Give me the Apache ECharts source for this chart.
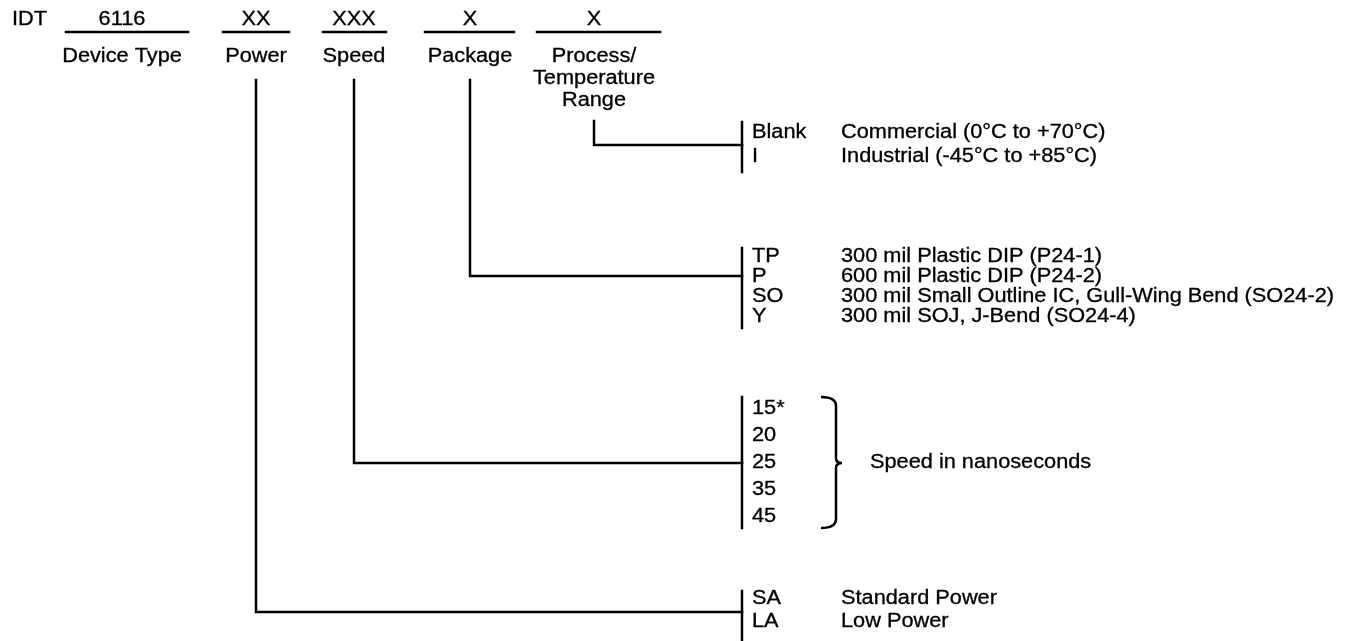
<!DOCTYPE html>
<html>
<head>
<meta charset="utf-8">
<script src="https://cdn.jsdelivr.net/npm/echarts@6/dist/echarts.min.js"></script>
<style>
html,body{margin:0;padding:0;background:#fff;}
#main{width:1348px;height:641px;}
</style>
</head>
<body>
<div id="main"></div>
<script>
// ---------- data (content of the ordering-information diagram) ----------
const prefix = 'IDT';
const fieldCodes = ['6116', 'XX', 'XXX', 'X', 'X'];
const fieldNames = ['Device Type', 'Power', 'Speed', 'Package', 'Process/\nTemperature\nRange'];

const tempCodes = ['Blank', 'I'];
const tempDescs = ['Commercial (0°C to +70°C)', 'Industrial (-45°C to +85°C)'];

const packageCodes = ['TP', 'P', 'SO', 'Y'];
const packageDescs = [
  '300 mil Plastic DIP (P24-1)',
  '600 mil Plastic DIP (P24-2)',
  '300 mil Small Outline IC, Gull-Wing Bend (SO24-2)',
  '300 mil SOJ, J-Bend (SO24-4)'
];

const speedCodes = ['15*', '20', '25', '35', '45'];
const speedNote = 'Speed in nanoseconds';

const powerCodes = ['SA', 'LA'];
const powerDescs = ['Standard Power', 'Low Power'];

// ---------- layout (diagram units on hidden axes, 1 unit = 1 px) ----------
const L = {
  prefixX: 12, codeY: 20, underlineY: 32, nameY: 57, nameLineH: 22,
  fieldX: [122, 256, 354, 470, 594],
  underline: [[66, 188], [223, 289], [323, 386], [425, 514], [537, 660]],
  stemTop: [null, 80, 80, 80, 121],
  barX: 742, codeX: 752, descX: 841,
  groups: [
    { field: 4, codes: tempCodes, descs: tempDescs, rowY: 133, step: 24, barTop: 122, barBot: 172, joinY: 145 },
    { field: 3, codes: packageCodes, descs: packageDescs, rowY: 257, step: 20, barTop: 248, barBot: 328, joinY: 276 },
    { field: 2, codes: speedCodes, descs: null, rowY: 409, step: 27, barTop: 397, barBot: 528, joinY: 463 },
    { field: 1, codes: powerCodes, descs: powerDescs, rowY: 599, step: 23, barTop: 591, barBot: 641, joinY: 612 }
  ],
  brace: { x1: 836, x2: 842, x0: 821 },
  noteX: 870
};

const FONT = '"Liberation Sans", Arial, Helvetica, sans-serif';
const FS = 19.5;
const TEXT_SX = 1.115;   // the source artwork is slightly wide-set
const LW = 2.5;

// ---------- build marks ----------
const segs = [];
const texts = [];   // [x, y, text, align]

texts.push([L.prefixX, L.codeY, prefix, 'left']);
fieldCodes.forEach((c, i) => {
  texts.push([L.fieldX[i], L.codeY, c, 'center']);
  segs.push({ coords: [[L.underline[i][0], L.underlineY], [L.underline[i][1], L.underlineY]] });
  fieldNames[i].split('\n').forEach((t, k) => {
    texts.push([L.fieldX[i], L.nameY + k * L.nameLineH, t, 'center']);
  });
});

L.groups.forEach(g => {
  const sx = L.fieldX[g.field];
  segs.push({ coords: [[sx, L.stemTop[g.field]], [sx, g.joinY], [L.barX, g.joinY]] });
  segs.push({ coords: [[L.barX, g.barTop], [L.barX, g.barBot]] });
  g.codes.forEach((c, k) => {
    const y = g.rowY + k * g.step;
    texts.push([L.codeX, y, c, 'left']);
    if (g.descs) texts.push([L.descX, y, g.descs[k], 'left']);
  });
});
const speedGroup = L.groups[2];
texts.push([L.noteX, speedGroup.joinY, speedNote, 'left']);
const braceData = [[L.brace.x0, speedGroup.barTop, speedGroup.joinY, speedGroup.barBot]];

const chart = echarts.init(document.getElementById('main'), null, { renderer: 'canvas' });
chart.setOption({
  animation: false,
  backgroundColor: '#fff',
  grid: { left: 0, right: 0, top: 0, bottom: 0 },
  xAxis: { type: 'value', min: 0, max: 1348, show: false },
  yAxis: { type: 'value', min: 0, max: 641, inverse: true, show: false },
  series: [
    {
      type: 'lines', coordinateSystem: 'cartesian2d', polyline: true, silent: true,
      lineStyle: { color: '#000', width: LW, opacity: 1, cap: 'square', join: 'miter' },
      data: segs
    },
    {
      type: 'custom', silent: true,
      renderItem: function (params, api) {
        const xa = api.value(0), yT = api.value(1), yM = api.value(2), yB = api.value(3);
        const P = (x, y) => api.coord([x, y]);
        const a = P(xa, yT), b = P(L.brace.x1, yT), c = P(L.brace.x1, yT + 9);
        const d = P(L.brace.x1, yM - 5), e = P(L.brace.x2, yM), f = P(L.brace.x1, yM + 5);
        const g = P(L.brace.x1, yB - 9), h = P(L.brace.x1, yB), k = P(xa, yB);
        const mm = P(L.brace.x1, yM);
        const path = `M${a[0]},${a[1]} Q${b[0]},${b[1]} ${c[0]},${c[1]} L${d[0]},${d[1]} Q${mm[0]},${mm[1]} ${e[0]},${e[1]} Q${mm[0]},${mm[1]} ${f[0]},${f[1]} L${g[0]},${g[1]} Q${h[0]},${h[1]} ${k[0]},${k[1]}`;
        return { type: 'path', shape: { pathData: path }, style: { fill: null, stroke: '#000', lineWidth: LW } };
      },
      data: braceData
    },
    {
      type: 'custom', silent: true,
      renderItem: function (params, api) {
        const pt = api.coord([api.value(0), api.value(1)]);
        const item = texts[params.dataIndex];
        return {
          type: 'text', x: pt[0], y: pt[1], scaleX: TEXT_SX, scaleY: 1,
          style: {
            text: item[2], fill: '#000', stroke: '#000', lineWidth: 0.3,
            font: FS + 'px ' + FONT, align: item[3], verticalAlign: 'middle'
          }
        };
      },
      data: texts
    }
  ]
});
</script>
</body>
</html>
